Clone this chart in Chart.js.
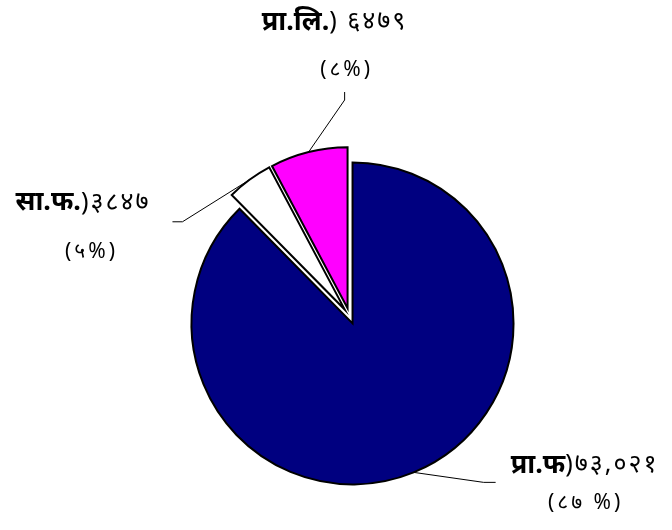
<!DOCTYPE html>
<html>
<head>
<meta charset="utf-8">
<script src="https://cdn.jsdelivr.net/npm/chart.js@4"></script>
<style>
  html, body { margin: 0; padding: 0; background: #fff; }
  #wrap { width: 672px; height: 530px; position: relative; }
</style>
</head>
<body>
<div id="wrap"><canvas id="pie"></canvas></div>
<script>
// data
const names = ['प्रा.फ', 'सा.फ.', 'प्रा.लि.'];
const valueTexts = [')७३,०२१', ')३८४७', ') ६४७९'];
const pctTexts = ['(८७ %)', '(५%)', '(८%)'];
const values = [73021, 3847, 6479];
const colors = ['#000080', '#FFFFFF', '#FF00FF'];

const EXPLODE = 8;
const FONT = '"Noto Sans", "Noto Sans CJK SC", sans-serif';

// leader line bends and label spots, relative to the slice's outer mid point
const leaders = [
  { bend: [70, 10], end: [82, 10], l1: [97, -7], l2: [172, 31] },
  { bend: [-67, 42], end: [-77, 42], l1: [-234, 23], l2: [-158, 72] },
  { bend: [36, -52], end: [36, -60], l1: [-47, -130], l2: [38, -82] }
];

// move each slice outwards by a fixed amount, without changing its radius
const explode = {
  id: 'explode',
  beforeDatasetsDraw(chart) {
    chart.getDatasetMeta(0).data.forEach(arc => {
      if (arc._exploded) return;
      arc._exploded = true;
      arc.draw = function (ctx) {
        const mid = (this.startAngle + this.endAngle) / 2;
        ctx.save();
        ctx.translate(Math.cos(mid) * EXPLODE, Math.sin(mid) * EXPLODE);
        Chart.ArcElement.prototype.draw.call(this, ctx);
        ctx.restore();
      };
    });
  }
};

const labels = {
  id: 'leaderLabels',
  afterDatasetsDraw(chart) {
    const ctx = chart.ctx;
    chart.getDatasetMeta(0).data.forEach((arc, i) => {
      const mid = (arc.startAngle + arc.endAngle) / 2;
      const cx = arc.x + Math.cos(mid) * EXPLODE;
      const cy = arc.y + Math.sin(mid) * EXPLODE;
      const sx = cx + Math.cos(mid) * arc.outerRadius;
      const sy = cy + Math.sin(mid) * arc.outerRadius;
      const L = leaders[i];
      ctx.save();
      ctx.strokeStyle = '#000';
      ctx.lineWidth = 1;
      ctx.beginPath();
      ctx.moveTo(sx, sy);
      ctx.lineTo(sx + L.bend[0], sy + L.bend[1]);
      ctx.lineTo(sx + L.end[0], sy + L.end[1]);
      ctx.stroke();

      ctx.textBaseline = 'middle';
      ctx.fillStyle = '#000';
      // first line: bold name then plain value
      let x = sx + L.l1[0];
      const y1 = sy + L.l1[1];
      ctx.textAlign = 'left';
      ctx.font = 'bold 27px ' + FONT;
      ctx.letterSpacing = '0px';
      ctx.fillText(names[i], x, y1);
      x += ctx.measureText(names[i]).width;
      ctx.font = '25px ' + FONT;
      ctx.letterSpacing = '2px';
      ctx.fillText(valueTexts[i], x, y1);
      // second line: percent
      ctx.textAlign = 'center';
      ctx.font = '21px ' + FONT;
      ctx.letterSpacing = '3px';
      ctx.fillText(pctTexts[i], sx + L.l2[0], sy + L.l2[1]);
      ctx.restore();
    });
  }
};

new Chart(document.getElementById('pie'), {
  type: 'pie',
  data: {
    labels: names,
    datasets: [{
      data: values,
      backgroundColor: colors,
      borderColor: '#000',
      borderWidth: 2,
      borderJoinStyle: 'miter',
      hoverOffset: 0
    }]
  },
  options: {
    responsive: true,
    maintainAspectRatio: false,
    animation: false,
    radius: 161,
    layout: { padding: { left: 27, top: 102, right: 0, bottom: 0 } },
    plugins: {
      legend: { display: false },
      tooltip: { enabled: false }
    }
  },
  plugins: [explode, labels]
});
</script>
</body>
</html>
